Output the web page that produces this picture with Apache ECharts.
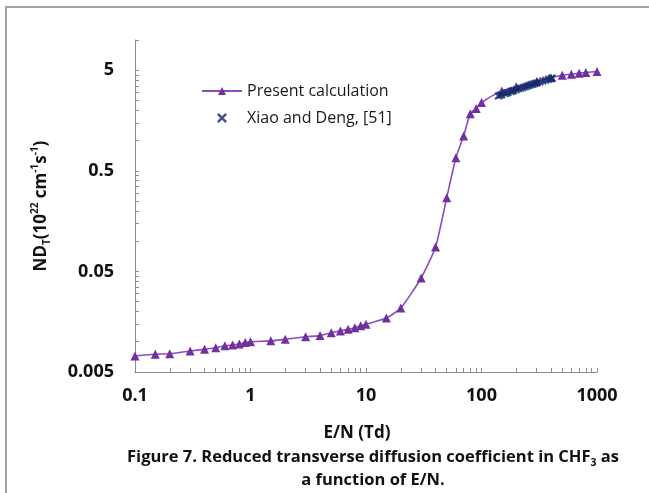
<!DOCTYPE html>
<html>
<head>
<meta charset="utf-8">
<script src="https://cdn.jsdelivr.net/npm/echarts@6/dist/echarts.min.js"></script>
<style>
  html, body { margin: 0; padding: 0; background: #ffffff; }
  #chart { width: 649px; height: 493px; }
</style>
</head>
<body>
<div id="chart"></div>
<script>
// Reduced transverse diffusion coefficient ND_T (10^22 cm^-1 s^-1) vs E/N (Td)
const presentEN = [0.1, 0.15, 0.2, 0.3, 0.4, 0.5, 0.6, 0.7, 0.8, 0.9, 1,
                   1.5, 2, 3, 4, 5, 6, 7, 8, 9, 10,
                   15, 20, 30, 40, 50, 60, 70, 80, 90, 100,
                   150, 200, 300, 400, 500, 600, 700, 800, 1000];
const presentND = [0.0072, 0.0075, 0.0076, 0.0081, 0.0084, 0.0087, 0.0091, 0.0093, 0.0095, 0.0098, 0.0100,
                   0.0102, 0.0106, 0.0112, 0.0115, 0.0123, 0.0128, 0.0133, 0.0138, 0.0144, 0.0149,
                   0.0172, 0.0216, 0.043, 0.0876, 0.27, 0.675, 1.11, 1.85, 2.08, 2.39,
                   3.12, 3.42, 3.87, 4.22, 4.47, 4.57, 4.68, 4.76, 4.86];

const xiaoEN = [140, 145, 150, 160, 165, 170, 180, 185, 190, 200, 210, 220, 230,
                240, 250, 260, 270, 280, 290, 300, 320, 340, 360, 380, 400, 410];
const xiaoND = [2.78, 2.83, 2.86, 2.93, 2.98, 3.01, 3.07, 3.12, 3.14, 3.20, 3.27, 3.32, 3.38,
                3.43, 3.49, 3.54, 3.60, 3.64, 3.70, 3.74, 3.83, 3.91, 3.99, 4.07, 4.14, 4.18];

const xTickLabels = [0.1, 1, 10, 100, 1000];
const yTickLabels = [0.005, 0.05, 0.5, 5];

// tick marks at every integer multiple inside each decade
function decadeTicks(starts, last) {
  const out = [];
  starts.forEach(function (s) {
    for (let k = 1; k <= 9; k++) out.push(Number((k * s).toPrecision(6)));
  });
  last.forEach(function (v) { out.push(v); });
  return out;
}
const xTicks = decadeTicks([0.1, 1, 10, 100], [1000]);
const yTicks = decadeTicks([0.005, 0.05, 0.5], [5, 10]);

const FONT = '"Open Sans", "Noto Sans", sans-serif';
const AXIS_GREY = '#8c8c8c';
const INK = '#111111';

const chart = echarts.init(document.getElementById('chart'), null, { renderer: 'canvas' });

chart.setOption({
  backgroundColor: '#ffffff',
  animation: false,
  textStyle: { fontFamily: FONT },
  grid: { left: 135, right: 52, top: 40, bottom: 121 },
  legend: {
    orient: 'vertical',
    left: 196,
    top: 78,
    itemWidth: 40,
    itemHeight: 10,
    itemGap: 11,
    textStyle: { fontFamily: FONT, fontSize: 16, color: '#1a1a1a', lineHeight: 16 },
    data: ['Present calculation', 'Xiao and Deng, [51]']
  },
  xAxis: {
    type: 'log',
    logBase: 10,
    min: 0.1,
    max: 1000,
    name: 'E/N (Td)',
    nameLocation: 'middle',
    nameGap: 53,
    nameTextStyle: { fontFamily: FONT, fontSize: 17, fontWeight: 'bold', color: INK, padding: [0, 18, 0, 0] },
    axisLine: { show: true, lineStyle: { color: AXIS_GREY, width: 1 } },
    axisTick: { show: true, inside: true, length: 4, customValues: xTicks, lineStyle: { color: AXIS_GREY } },
    axisLabel: {
      customValues: xTickLabels,
      margin: 15,
      fontFamily: FONT, fontSize: 18, fontWeight: 'bold', color: INK,
      formatter: function (v) { return String(v); }
    },
    splitLine: { show: false },
    minorTick: { show: false }
  },
  yAxis: {
    type: 'log',
    logBase: 10,
    min: 0.005,
    max: 10,
    name: 'ND{sub|T}(10{sup|22} cm{sup|-1}s{sup|-1})',
    nameLocation: 'middle',
    nameGap: 83,
    nameRotate: 90,
    nameTextStyle: {
      fontFamily: FONT, fontSize: 17, fontWeight: 'bold', color: INK, lineHeight: 22,
      rich: {
        sub: { fontFamily: FONT, fontSize: 10, fontWeight: 'bold', color: INK, lineHeight: 11, verticalAlign: 'bottom' },
        sup: { fontFamily: FONT, fontSize: 10, fontWeight: 'bold', color: INK, lineHeight: 11, verticalAlign: 'top' }
      }
    },
    axisLine: { show: true, lineStyle: { color: AXIS_GREY, width: 1 } },
    axisTick: { show: true, inside: true, length: 4, customValues: yTicks, lineStyle: { color: AXIS_GREY } },
    axisLabel: {
      customValues: yTickLabels,
      margin: 21,
      fontFamily: FONT, fontSize: 18, fontWeight: 'bold', color: INK,
      formatter: function (v) { return String(v); }
    },
    splitLine: { show: false },
    minorTick: { show: false }
  },
  series: [
    {
      name: 'Present calculation',
      type: 'line',
      data: presentEN.map(function (x, i) { return [x, presentND[i]]; }),
      smooth: 0.2,
      symbol: 'triangle',
      symbolSize: 9,
      showAllSymbol: true,
      lineStyle: { color: '#8a4cc2', width: 1.6 },
      itemStyle: { color: '#7030a0' },
      z: 2
    },
    {
      name: 'Xiao and Deng, [51]',
      type: 'scatter',
      data: xiaoEN.map(function (x, i) { return [x, xiaoND[i]]; }),
      symbol: 'path://M0,1.8L1.8,0L5,3.2L8.2,0L10,1.8L6.8,5L10,8.2L8.2,10L5,6.8L1.8,10L0,8.2L3.2,5Z',
      symbolSize: 8,
      itemStyle: { color: '#14296a' },
      z: 3
    }
  ],
  graphic: [
    {
      type: 'polyline',
      silent: true,
      shape: { points: [[6, 493], [6, 7], [649, 7]] },
      style: { stroke: '#a3a3a3', lineWidth: 2, fill: null }
    },
    {
      type: 'text',
      silent: true,
      style: {
        text: 'Figure 7. Reduced transverse diffusion coefficient in CHF{sub|3} as\na function of E/N.',
        x: 373, y: 469,
        align: 'center', verticalAlign: 'middle',
        fontFamily: FONT, fontSize: 16.5, fontWeight: 'bold', fill: INK, lineHeight: 23,
        rich: {
          sub: { fontFamily: FONT, fontSize: 10.5, fontWeight: 'bold', fill: INK, lineHeight: 11, verticalAlign: 'bottom' }
        }
      }
    }
  ]
});
</script>
</body>
</html>
